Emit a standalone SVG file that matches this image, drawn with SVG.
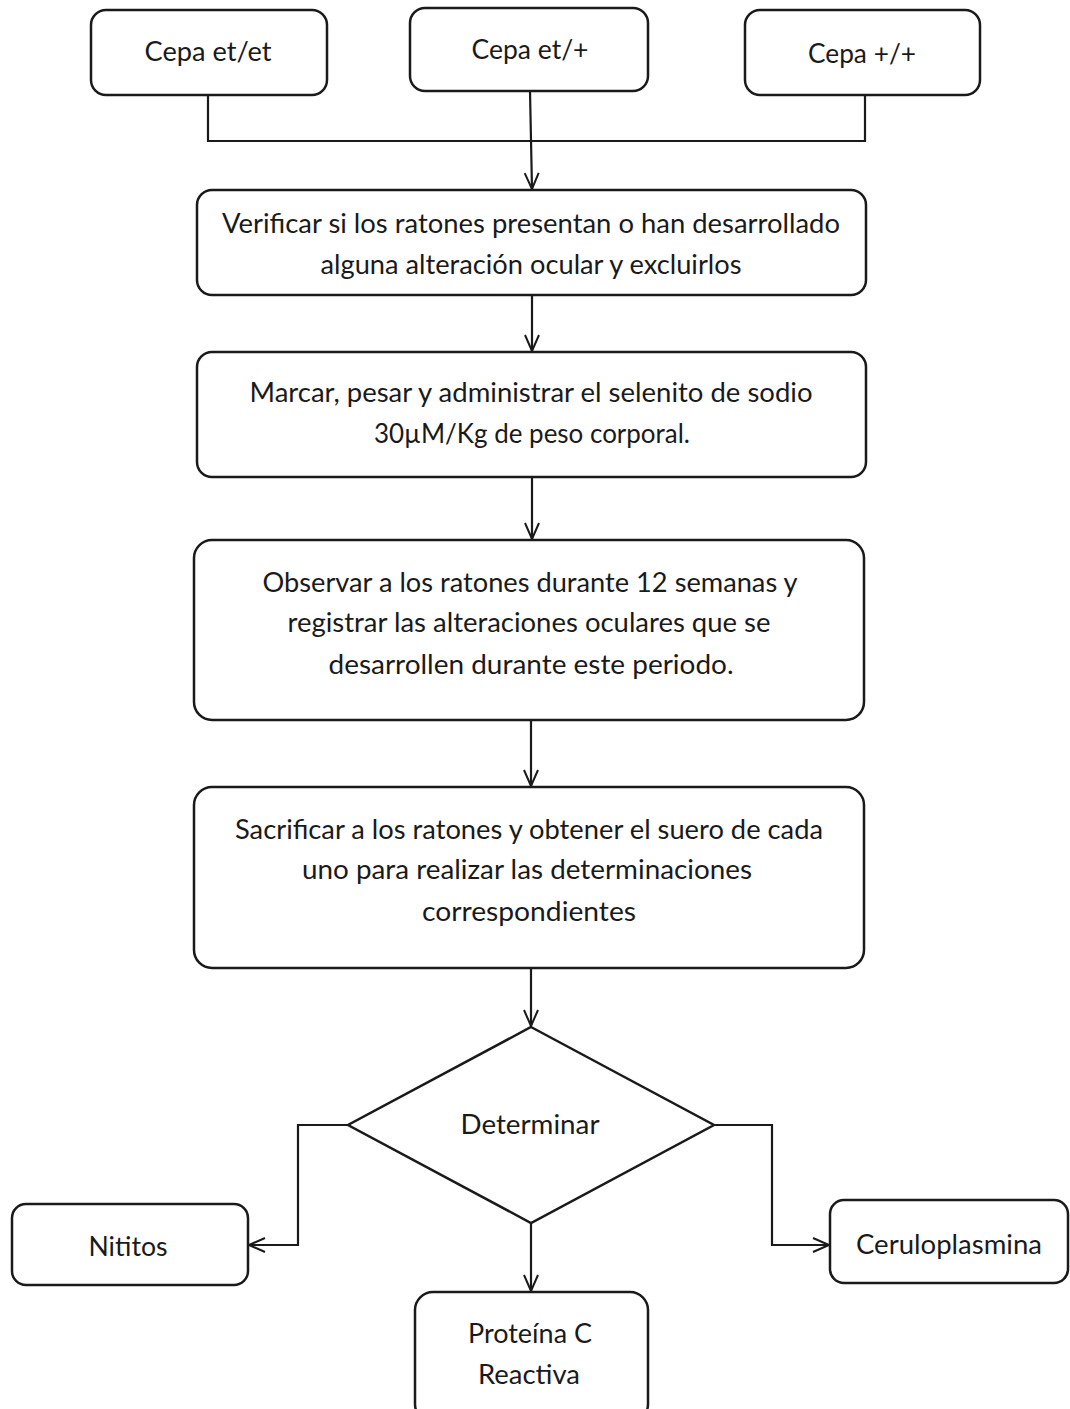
<svg xmlns="http://www.w3.org/2000/svg" width="1070" height="1409" viewBox="0 0 1070 1409">
<style>
.box{fill:#fff;stroke:#1a1a1a;stroke-width:2.5}
.ln{fill:none;stroke:#1a1a1a;stroke-width:2.2}
text{font-family:Lato,"Open Sans","Liberation Sans",sans-serif;font-size:27px;fill:#1a1a1a;text-anchor:middle}
</style>
<defs>
<marker id="ah" viewBox="0 0 20 20" refX="18" refY="10" markerWidth="20" markerHeight="20" markerUnits="userSpaceOnUse" orient="auto">
<path d="M2,3 L18,10 L2,17" fill="none" stroke="#1a1a1a" stroke-width="2"/>
</marker>
</defs>
<rect width="1070" height="1409" fill="#fff"/>
<g id="connectors">
<polyline class="ln" points="208,95 208,141 865,141 865,95"/>
<line class="ln" x1="530" y1="91" x2="532" y2="189" marker-end="url(#ah)"/>
<line class="ln" x1="532" y1="295" x2="532" y2="351" marker-end="url(#ah)"/>
<line class="ln" x1="532" y1="477" x2="532" y2="539" marker-end="url(#ah)"/>
<line class="ln" x1="531" y1="720" x2="531" y2="786" marker-end="url(#ah)"/>
<line class="ln" x1="531" y1="968" x2="531" y2="1026" marker-end="url(#ah)"/>
<polyline class="ln" points="348,1125 298,1125 298,1245 249,1245" marker-end="url(#ah)"/>
<polyline class="ln" points="714,1125 772,1125 772,1245 829,1245" marker-end="url(#ah)"/>
<line class="ln" x1="531" y1="1223" x2="531" y2="1291" marker-end="url(#ah)"/>
</g>
<g id="n1"><rect class="box" x="91" y="10" width="236" height="85" rx="15"/><text x="208" y="61" textLength="127" lengthAdjust="spacingAndGlyphs">Cepa et/et</text></g>
<g id="n2"><rect class="box" x="410" y="8" width="238" height="83" rx="15"/><text x="530" y="59" textLength="117" lengthAdjust="spacingAndGlyphs">Cepa et/+</text></g>
<g id="n3"><rect class="box" x="745" y="10" width="235" height="85" rx="15"/><text x="862" y="63" textLength="108" lengthAdjust="spacingAndGlyphs">Cepa +/+</text></g>
<g id="n4"><rect class="box" x="197" y="190" width="669" height="105" rx="15"/>
<text x="531" y="233" textLength="618" lengthAdjust="spacingAndGlyphs">Verificar si los ratones presentan o han desarrollado</text>
<text x="531" y="274" textLength="421" lengthAdjust="spacingAndGlyphs">alguna alteración ocular y excluirlos</text></g>
<g id="n5"><rect class="box" x="197" y="352" width="669" height="125" rx="15"/>
<text x="531" y="402" textLength="563" lengthAdjust="spacingAndGlyphs">Marcar, pesar y administrar el selenito de sodio</text>
<text x="532" y="443" textLength="316" lengthAdjust="spacingAndGlyphs">30µM/Kg de peso corporal.</text></g>
<g id="n6"><rect class="box" x="194" y="540" width="670" height="180" rx="18"/>
<text x="530" y="592" textLength="535" lengthAdjust="spacingAndGlyphs">Observar a los ratones durante 12 semanas y</text>
<text x="529" y="632" textLength="483" lengthAdjust="spacingAndGlyphs">registrar las alteraciones oculares que se</text>
<text x="531" y="674" textLength="405" lengthAdjust="spacingAndGlyphs">desarrollen durante este periodo.</text></g>
<g id="n7"><rect class="box" x="194" y="787" width="670" height="181" rx="18"/>
<text x="529" y="839" textLength="588" lengthAdjust="spacingAndGlyphs">Sacrificar a los ratones y obtener el suero de cada</text>
<text x="527" y="879" textLength="450" lengthAdjust="spacingAndGlyphs">uno para realizar las determinaciones</text>
<text x="529" y="921" textLength="214" lengthAdjust="spacingAndGlyphs">correspondientes</text></g>
<g id="n8"><polygon class="box" points="531,1027 714,1125 531,1223 348,1125"/>
<text x="530" y="1134" textLength="139" lengthAdjust="spacingAndGlyphs">Determinar</text></g>
<g id="n9"><rect class="box" x="12" y="1204" width="236" height="81" rx="14"/>
<text x="128" y="1256" textLength="79" lengthAdjust="spacingAndGlyphs">Nititos</text></g>
<g id="n10"><rect class="box" x="830" y="1200" width="238" height="83" rx="14"/>
<text x="949" y="1254" textLength="186" lengthAdjust="spacingAndGlyphs">Ceruloplasmina</text></g>
<g id="n11"><rect class="box" x="415" y="1292" width="233" height="130" rx="18"/>
<text x="530" y="1343" textLength="124" lengthAdjust="spacingAndGlyphs">Proteína C</text>
<text x="529" y="1384" textLength="102" lengthAdjust="spacingAndGlyphs">Reactiva</text></g>
</svg>
